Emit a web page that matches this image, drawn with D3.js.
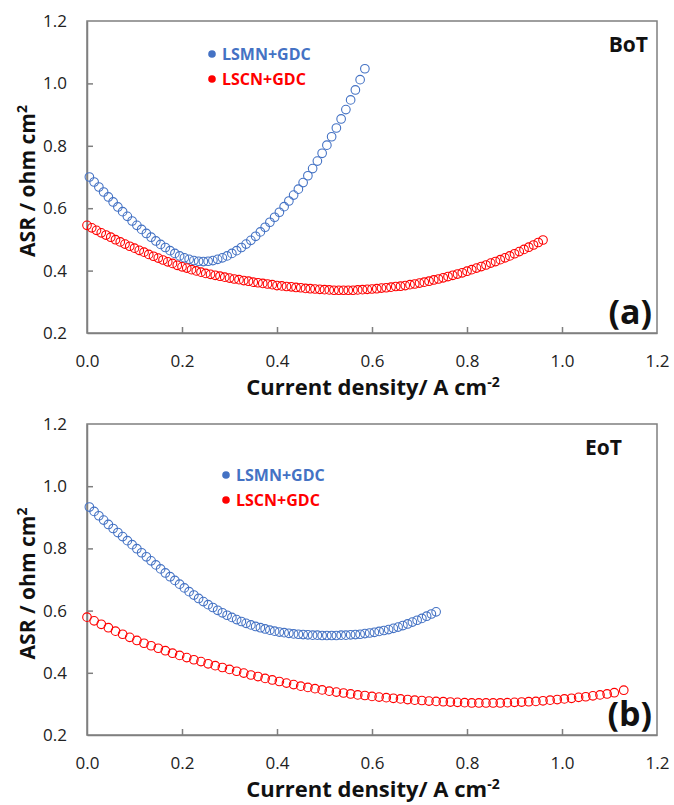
<!DOCTYPE html>
<html>
<head>
<meta charset="UTF-8">
<title>ASR vs current density</title>
<style>
  html, body { margin: 0; padding: 0; background: #fff; }
  svg text { font-family: "Open Sans", Lato, sans-serif; }
</style>
</head>
<body>
<div id="chart"></div>
<script src="https://d3js.org/d3.v7.min.js"></script>
<script>
// tick labels
var xTicks = [0.0, 0.2, 0.4, 0.6, 0.8, 1.0, 1.2];
var yTicks = [0.2, 0.4, 0.6, 0.8, 1.0, 1.2];
var seriesNames = ["LSMN+GDC", "LSCN+GDC"];

// (a) BoT  [current density, ASR]
var botLSMN = [
  [0.005,0.700],[0.015,0.684],[0.025,0.668],[0.035,0.652],[0.045,0.636],[0.055,0.620],[0.065,0.604],[0.075,0.589],
  [0.085,0.574],[0.095,0.559],[0.105,0.545],[0.115,0.532],[0.125,0.519],[0.135,0.507],[0.145,0.495],[0.155,0.484],
  [0.165,0.474],[0.175,0.464],[0.185,0.455],[0.195,0.447],[0.205,0.441],[0.215,0.436],[0.225,0.432],[0.235,0.430],
  [0.245,0.429],[0.255,0.430],[0.265,0.432],[0.275,0.436],[0.285,0.441],[0.295,0.447],[0.305,0.455],[0.315,0.464],
  [0.325,0.474],[0.335,0.485],[0.345,0.497],[0.355,0.510],[0.365,0.524],[0.375,0.539],[0.385,0.555],[0.395,0.571],
  [0.405,0.587],[0.415,0.605],[0.425,0.623],[0.435,0.642],[0.445,0.661],[0.455,0.682],[0.465,0.704],[0.475,0.727],
  [0.485,0.751],[0.495,0.776],[0.505,0.802],[0.515,0.829],[0.525,0.857],[0.535,0.886],[0.545,0.916],[0.555,0.947],
  [0.565,0.979],[0.575,1.012],[0.585,1.047]
];
var botLSCN = [
  [0.00,0.545],[0.01,0.537],[0.02,0.529],[0.03,0.521],[0.04,0.514],[0.05,0.507],[0.06,0.499],[0.07,0.492],[0.08,0.485],
  [0.09,0.478],[0.10,0.472],[0.11,0.465],[0.12,0.459],[0.13,0.452],[0.14,0.446],[0.15,0.440],[0.16,0.434],[0.17,0.428],
  [0.18,0.423],[0.19,0.417],[0.20,0.412],[0.21,0.408],[0.22,0.403],[0.23,0.399],[0.24,0.395],[0.25,0.391],[0.26,0.388],
  [0.27,0.385],[0.28,0.382],[0.29,0.379],[0.30,0.376],[0.31,0.373],[0.32,0.371],[0.33,0.368],[0.34,0.366],[0.35,0.363],
  [0.36,0.361],[0.37,0.359],[0.38,0.357],[0.39,0.355],[0.40,0.352],[0.41,0.351],[0.42,0.349],[0.43,0.348],[0.44,0.346],
  [0.45,0.345],[0.46,0.343],[0.47,0.342],[0.48,0.341],[0.49,0.340],[0.50,0.339],[0.51,0.338],[0.52,0.337],[0.53,0.337],
  [0.54,0.337],[0.55,0.337],[0.56,0.337],[0.57,0.338],[0.58,0.339],[0.59,0.340],[0.60,0.341],[0.61,0.342],[0.62,0.344],
  [0.63,0.345],[0.64,0.347],[0.65,0.349],[0.66,0.350],[0.67,0.352],[0.68,0.355],[0.69,0.357],[0.70,0.360],[0.71,0.363],
  [0.72,0.366],[0.73,0.370],[0.74,0.373],[0.75,0.377],[0.76,0.381],[0.77,0.385],[0.78,0.389],[0.79,0.393],[0.80,0.398],
  [0.81,0.403],[0.82,0.408],[0.83,0.413],[0.84,0.418],[0.85,0.424],[0.86,0.429],[0.87,0.435],[0.88,0.441],[0.89,0.447],
  [0.90,0.454],[0.91,0.461],[0.92,0.468],[0.93,0.475],[0.94,0.482],[0.95,0.490],[0.96,0.498]
];

// (b) EoT
var eotLSMN = [
  [0.005,0.933],[0.015,0.919],[0.025,0.905],[0.035,0.891],[0.045,0.877],[0.055,0.864],[0.065,0.851],[0.075,0.838],
  [0.085,0.825],[0.095,0.812],[0.105,0.799],[0.115,0.786],[0.125,0.773],[0.135,0.760],[0.145,0.747],[0.155,0.734],
  [0.165,0.721],[0.175,0.709],[0.185,0.697],[0.195,0.685],[0.205,0.673],[0.215,0.661],[0.225,0.650],[0.235,0.639],
  [0.245,0.629],[0.255,0.619],[0.265,0.610],[0.275,0.601],[0.285,0.593],[0.295,0.585],[0.305,0.578],[0.315,0.571],
  [0.325,0.565],[0.335,0.559],[0.345,0.554],[0.355,0.549],[0.365,0.545],[0.375,0.541],[0.385,0.537],[0.395,0.534],
  [0.405,0.531],[0.415,0.529],[0.425,0.527],[0.435,0.525],[0.445,0.524],[0.455,0.523],[0.465,0.522],[0.475,0.521],
  [0.485,0.521],[0.495,0.520],[0.505,0.520],[0.515,0.520],[0.525,0.520],[0.535,0.521],[0.545,0.521],[0.555,0.522],
  [0.565,0.523],[0.575,0.524],[0.585,0.526],[0.595,0.528],[0.605,0.530],[0.615,0.533],[0.625,0.536],[0.635,0.539],
  [0.645,0.543],[0.655,0.547],[0.665,0.552],[0.675,0.557],[0.685,0.563],[0.695,0.569],[0.705,0.575],[0.715,0.582],
  [0.725,0.589],[0.735,0.596]
];
var eotLSCN = [
  [0.000,0.579],[0.015,0.567],[0.030,0.556],[0.045,0.545],[0.060,0.534],[0.075,0.524],[0.090,0.514],[0.105,0.504],
  [0.120,0.495],[0.135,0.487],[0.150,0.479],[0.165,0.471],[0.180,0.463],[0.195,0.456],[0.210,0.449],[0.225,0.442],
  [0.240,0.436],[0.255,0.429],[0.270,0.423],[0.285,0.417],[0.300,0.411],[0.315,0.405],[0.330,0.399],[0.345,0.393],
  [0.360,0.388],[0.375,0.382],[0.390,0.377],[0.405,0.372],[0.420,0.367],[0.435,0.362],[0.450,0.357],[0.465,0.353],
  [0.480,0.349],[0.495,0.345],[0.510,0.341],[0.525,0.338],[0.540,0.335],[0.555,0.332],[0.570,0.329],[0.585,0.327],
  [0.600,0.324],[0.615,0.322],[0.630,0.320],[0.645,0.318],[0.660,0.316],[0.675,0.314],[0.690,0.312],[0.705,0.311],
  [0.720,0.309],[0.735,0.308],[0.750,0.307],[0.765,0.306],[0.780,0.305],[0.795,0.304],[0.810,0.303],[0.825,0.303],
  [0.840,0.303],[0.855,0.303],[0.870,0.303],[0.885,0.304],[0.900,0.305],[0.915,0.306],[0.930,0.307],[0.945,0.308],
  [0.960,0.310],[0.975,0.312],[0.990,0.314],[1.005,0.316],[1.020,0.318],[1.035,0.321],[1.050,0.323],[1.065,0.326],
  [1.080,0.329],[1.095,0.332],[1.110,0.336],[1.130,0.344]
];

var blue = "#4472C4", red = "#FF0000", axisGray = "#7f7f7f";

var svg = d3.select("#chart").append("svg")
  .attr("width", 674).attr("height", 805);

function panel(opt){
  var left = 87, right = 657, top = opt.top, bottom = opt.bottom;
  var x = d3.scaleLinear().domain([0, 1.2]).range([left, right]);
  var y = d3.scaleLinear().domain([0.2, 1.2]).range([bottom, top]);
  var g = svg.append("g");

  // frame
  g.append("rect").attr("x", left).attr("y", top)
    .attr("width", right - left).attr("height", bottom - top)
    .attr("fill", "none").attr("stroke", axisGray).attr("stroke-width", 1.5);

  var xAxis = g.append("g").attr("transform", "translate(0," + bottom + ")")
    .call(d3.axisBottom(x).tickValues(xTicks).tickSizeInner(-6).tickSizeOuter(0)
      .tickPadding(22).tickFormat(d3.format(".1f")));
  var yAxis = g.append("g").attr("transform", "translate(" + left + ",0)")
    .call(d3.axisLeft(y).tickValues(yTicks).tickSizeInner(-6).tickSizeOuter(0)
      .tickPadding(20).tickFormat(d3.format(".1f")));
  [xAxis, yAxis].forEach(function(a){
    a.select(".domain").attr("stroke", axisGray).attr("stroke-width", 1.5);
    a.selectAll(".tick line").attr("stroke", axisGray).attr("stroke-width", 1.5);
    a.selectAll(".tick text").attr("font-size", 17).attr("fill", "#222")
      .attr("font-family", "Lato, sans-serif");
  });
  xAxis.selectAll(".tick line").filter(function(d){ return d === 0 || d === 1.2; }).remove();
  yAxis.selectAll(".tick line").filter(function(d){ return d === 0.2 || d === 1.2; }).remove();

  // series
  [[opt.s1, blue], [opt.s2, red]].forEach(function(s){
    g.append("g").selectAll("circle").data(s[0]).join("circle")
      .attr("cx", function(d){ return x(d[0]); })
      .attr("cy", function(d){ return y(d[1]); })
      .attr("r", 4.3).attr("fill", "none")
      .attr("stroke", s[1]).attr("stroke-width", 1.1);
  });

  // legend
  seriesNames.forEach(function(n, i){
    var ly = opt.legY + i * 25;
    g.append("circle").attr("cx", opt.legX).attr("cy", ly).attr("r", 3.8)
      .attr("fill", i === 0 ? blue : red);
    g.append("text").attr("x", opt.legX + 10).attr("y", ly).attr("dy", "0.36em")
      .attr("font-size", 16).attr("font-weight", "bold")
      .attr("fill", i === 0 ? blue : red).text(n);
  });

  g.append("text").attr("x", opt.tagX).attr("y", top + 31).attr("text-anchor", "end")
    .attr("font-size", 21).attr("font-weight", "bold").attr("fill", "#111").text(opt.tag);
  g.append("text").attr("x", 652).attr("y", bottom - 9).attr("text-anchor", "end")
    .attr("font-size", 34).attr("font-weight", "bold").attr("fill", "#111").text(opt.label);

  // axis titles
  var xt = g.append("text").attr("x", 373).attr("y", bottom + 62)
    .attr("text-anchor", "middle").attr("font-size", 22).attr("font-weight", "bold").attr("fill", "#111");
  xt.append("tspan").text("Current density/ A cm");
  xt.append("tspan").attr("dy", -8).attr("font-size", 14).text("-2");

  var yt = g.append("text")
    .attr("transform", "translate(35," + ((top + bottom) / 2 + 4) + ") rotate(-90)")
    .attr("text-anchor", "middle").attr("font-size", 21).attr("font-weight", "bold").attr("fill", "#111");
  yt.append("tspan").text("ASR / ohm cm");
  yt.append("tspan").attr("dy", -8).attr("font-size", 14).text("2");
}

panel({ top: 21, bottom: 333, s1: botLSMN, s2: botLSCN, legX: 212, legY: 54, tag: "BoT", tagX: 648, label: "(a)" });
panel({ top: 424, bottom: 735, s1: eotLSMN, s2: eotLSCN, legX: 226, legY: 475, tag: "EoT", tagX: 622, label: "(b)" });
</script>
</body>
</html>
